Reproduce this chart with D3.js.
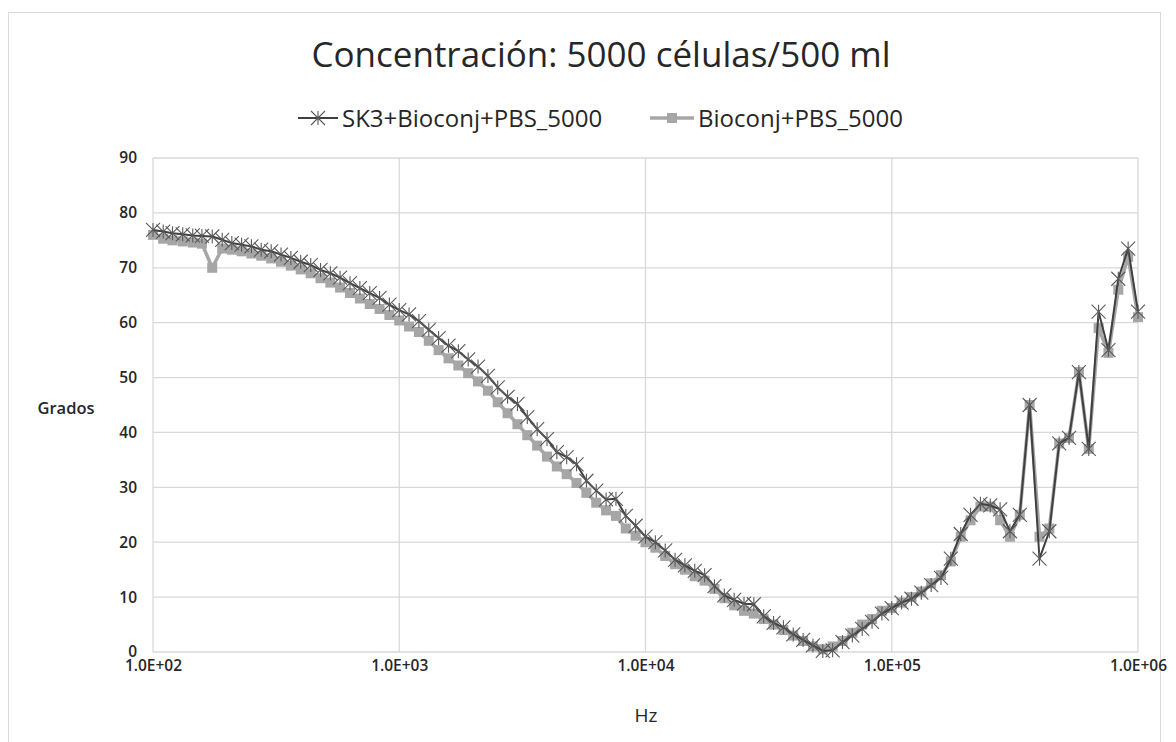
<!DOCTYPE html>
<html lang="es">
<head>
<meta charset="utf-8">
<title>Concentración: 5000 células/500 ml</title>
<script src="https://cdn.jsdelivr.net/npm/d3@7"></script>
<style>
  body { margin: 0; background: #fff; }
  text { font-family: "Open Sans", sans-serif; fill: #262626; }
</style>
</head>
<body>
<script>
// frecuencias (Hz), 25 puntos por década
var hz = [100, 110, 120, 132, 145, 158, 174, 191, 209, 229, 251, 275, 302, 331, 363, 398, 437, 479, 525, 575, 631, 692, 759, 832, 912,
  1000, 1096, 1202, 1318, 1445, 1585, 1738, 1905, 2089, 2291, 2512, 2754, 3020, 3311, 3631, 3981, 4365, 4786, 5248, 5754, 6310, 6918, 7586, 8318, 9120,
  10000, 10965, 12023, 13183, 14454, 15849, 17378, 19055, 20893, 22909, 25119, 27542, 30200, 33113, 36308, 39811, 43652, 47863, 52481, 57544, 63096, 69183, 75858, 83176, 91201,
  100000, 109648, 120226, 131826, 144544, 158489, 173780, 190546, 208930, 229087, 251189, 275423, 301995, 331131, 363078, 398107, 436516, 478630, 524807, 575440, 630957, 691831, 758578, 831764, 912011,
  1000000];

var sk3 = [76.9, 76.6, 76.3, 76.1, 75.9, 75.8, 75.7, 75.1, 74.5, 74.2, 73.9, 73.3, 73.0, 72.4, 71.8, 71.1, 70.5, 69.6, 69.0, 68.2, 67.2, 66.3, 65.4, 64.5, 63.3,
  62.3, 61.5, 60.3, 58.7, 57.2, 55.8, 54.8, 53.3, 52.0, 50.3, 48.2, 46.5, 45.2, 42.8, 40.6, 38.8, 36.4, 35.5, 34.2, 31.2, 29.4, 27.8, 27.9, 24.8, 23.0,
  21.0, 20.0, 18.5, 16.8, 15.8, 14.8, 14.0, 12.0, 10.3, 9.5, 8.8, 8.7, 6.5, 5.3, 4.5, 3.2, 2.2, 1.2, 0.2, 0.3, 1.8, 3.0, 4.2, 5.5, 7.0,
  8.0, 9.0, 9.7, 10.8, 12.2, 13.5, 17.0, 21.5, 25.0, 27.0, 26.7, 26.0, 22.0, 25.0, 45.0, 17.0, 22.0, 38.0, 39.0, 51.0, 37.0, 62.0, 55.0, 68.0, 73.5,
  62.0];

var bioconj = [76.0, 75.3, 75.0, 74.8, 74.6, 74.4, 70.0, 73.5, 73.3, 73.0, 72.6, 72.2, 71.7, 71.1, 70.4, 69.7, 69.0, 68.1, 67.3, 66.4, 65.4, 64.4, 63.4, 62.5, 61.4,
  60.4, 59.3, 58.3, 56.7, 55.0, 53.5, 52.2, 50.8, 49.3, 47.6, 45.5, 43.5, 41.5, 39.5, 37.6, 35.6, 33.8, 32.4, 30.8, 29.0, 27.2, 25.8, 24.8, 22.5, 21.2,
  20.0, 19.0, 17.5, 16.0, 15.0, 13.8, 13.0, 11.5, 9.8, 8.5, 7.5, 7.0, 6.0, 5.0, 4.0, 3.0, 2.0, 1.0, 0.5, 1.0, 2.0, 3.5, 5.0, 6.0, 7.5,
  8.0, 9.0, 10.0, 11.0, 12.5, 14.0, 16.5, 21.0, 24.0, 26.5, 26.5, 24.0, 21.0, 25.0, 45.0, 21.0, 22.5, 38.0, 39.0, 51.0, 37.0, 59.0, 54.5, 66.0, 72.0,
  61.0];

var seriesNames = ["SK3+Bioconj+PBS_5000", "Bioconj+PBS_5000"];
var xTicks = [1e2, 1e3, 1e4, 1e5, 1e6];
var yTicks = [0, 10, 20, 30, 40, 50, 60, 70, 80, 90];

var w = 1176, h = 742;
var svg = d3.select("body").append("svg")
  .attr("width", w)
  .attr("height", h);

// marco del gráfico
svg.append("rect")
  .attr("x", 8.5).attr("y", 12.5)
  .attr("width", 1152).attr("height", 760)
  .attr("fill", "none")
  .attr("stroke", "#d9d9d9");

var x = d3.scaleLog().domain([1e2, 1e6]).range([153, 1138]);
var y = d3.scaleLinear().domain([0, 90]).range([652, 158]);

var fmt = function (d) {
  var e = Math.round(Math.log10(d));
  return "1.0E+" + (e < 10 ? "0" + e : e);
};

// rejilla
svg.append("g").selectAll("line")
  .data(yTicks).enter().append("line")
  .attr("x1", x(1e2)).attr("x2", x(1e6))
  .attr("y1", function (d) { return y(d); })
  .attr("y2", function (d) { return y(d); })
  .attr("stroke", "#d9d9d9").attr("stroke-width", 1.3);

svg.append("g").selectAll("line")
  .data(xTicks).enter().append("line")
  .attr("x1", function (d) { return x(d); })
  .attr("x2", function (d) { return x(d); })
  .attr("y1", y(0)).attr("y2", y(90))
  .attr("stroke", "#d9d9d9").attr("stroke-width", 1.3);

// ejes
var xAxis = svg.append("g")
  .attr("transform", "translate(0," + y(0) + ")")
  .call(d3.axisBottom(x).tickValues(xTicks).tickFormat(fmt).tickSize(0).tickPadding(8));
var yAxis = svg.append("g")
  .attr("transform", "translate(" + x(1e2) + ",0)")
  .call(d3.axisLeft(y).tickValues(yTicks).tickSize(0).tickPadding(16));
[xAxis, yAxis].forEach(function (g) {
  g.select(".domain").remove();
  g.selectAll("text")
    .style("font-family", "'Open Sans', sans-serif")
    .style("font-size", "15.5px")
    .style("font-weight", "600")
    .attr("fill", "#262626");
});

// series
var ptsB = hz.map(function (d, i) { return [d, bioconj[i]]; });
var ptsS = hz.map(function (d, i) { return [d, sk3[i]]; });
var line = d3.line()
  .x(function (d) { return x(d[0]); })
  .y(function (d) { return y(d[1]); });

var star = function (s) {
  return "M" + (-s) + "," + (-s) + "L" + s + "," + s +
    "M" + (-s) + "," + s + "L" + s + "," + (-s) +
    "M0," + (-s) + "L0," + s;
};

svg.append("path")
  .datum(ptsB)
  .attr("d", line)
  .attr("fill", "none")
  .attr("stroke", "#a6a6a6")
  .attr("stroke-width", 3.5)
  .attr("stroke-linejoin", "round");

svg.append("g").selectAll("rect")
  .data(ptsB).enter().append("rect")
  .attr("x", function (d) { return x(d[0]) - 5; })
  .attr("y", function (d) { return y(d[1]) - 5; })
  .attr("width", 10).attr("height", 10)
  .attr("fill", "#a6a6a6");

svg.append("path")
  .datum(ptsS)
  .attr("d", line)
  .attr("fill", "none")
  .attr("stroke", "#404040")
  .attr("stroke-width", 2)
  .attr("stroke-linejoin", "round");

svg.append("g").selectAll("path")
  .data(ptsS).enter().append("path")
  .attr("transform", function (d) { return "translate(" + x(d[0]) + "," + y(d[1]) + ")"; })
  .attr("d", star(7))
  .attr("fill", "none")
  .attr("stroke", "#595959")
  .attr("stroke-width", 1.1);

// título
svg.append("text")
  .attr("x", 601).attr("y", 67)
  .attr("text-anchor", "middle")
  .style("font-size", "35px")
  .attr("fill", "#1a1a1a")
  .text("Concentración: 5000 células/500 ml");

// leyenda
var lg = svg.append("g");
lg.append("line").attr("x1", 298).attr("x2", 338).attr("y1", 118).attr("y2", 118)
  .attr("stroke", "#404040").attr("stroke-width", 2);
lg.append("path").attr("transform", "translate(318,118)").attr("d", star(7))
  .attr("fill", "none").attr("stroke", "#595959").attr("stroke-width", 1.1);
lg.append("text").attr("x", 342).attr("y", 127).style("font-size", "24px")
  .attr("fill", "#1a1a1a")
  .text(seriesNames[0]);
lg.append("line").attr("x1", 650).attr("x2", 694).attr("y1", 118).attr("y2", 118)
  .attr("stroke", "#a6a6a6").attr("stroke-width", 3.5);
lg.append("rect").attr("x", 667).attr("y", 113).attr("width", 10).attr("height", 10)
  .attr("fill", "#a6a6a6");
lg.append("text").attr("x", 698).attr("y", 127).style("font-size", "24px")
  .attr("fill", "#1a1a1a")
  .text(seriesNames[1]);

// títulos de ejes
svg.append("text")
  .attr("x", 66).attr("y", 414)
  .attr("text-anchor", "middle")
  .style("font-size", "16.5px").style("font-weight", "600")
  .text("Grados");
svg.append("text")
  .attr("x", 646).attr("y", 722)
  .attr("text-anchor", "middle")
  .style("font-size", "19px")
  .text("Hz");
</script>
</body>
</html>
